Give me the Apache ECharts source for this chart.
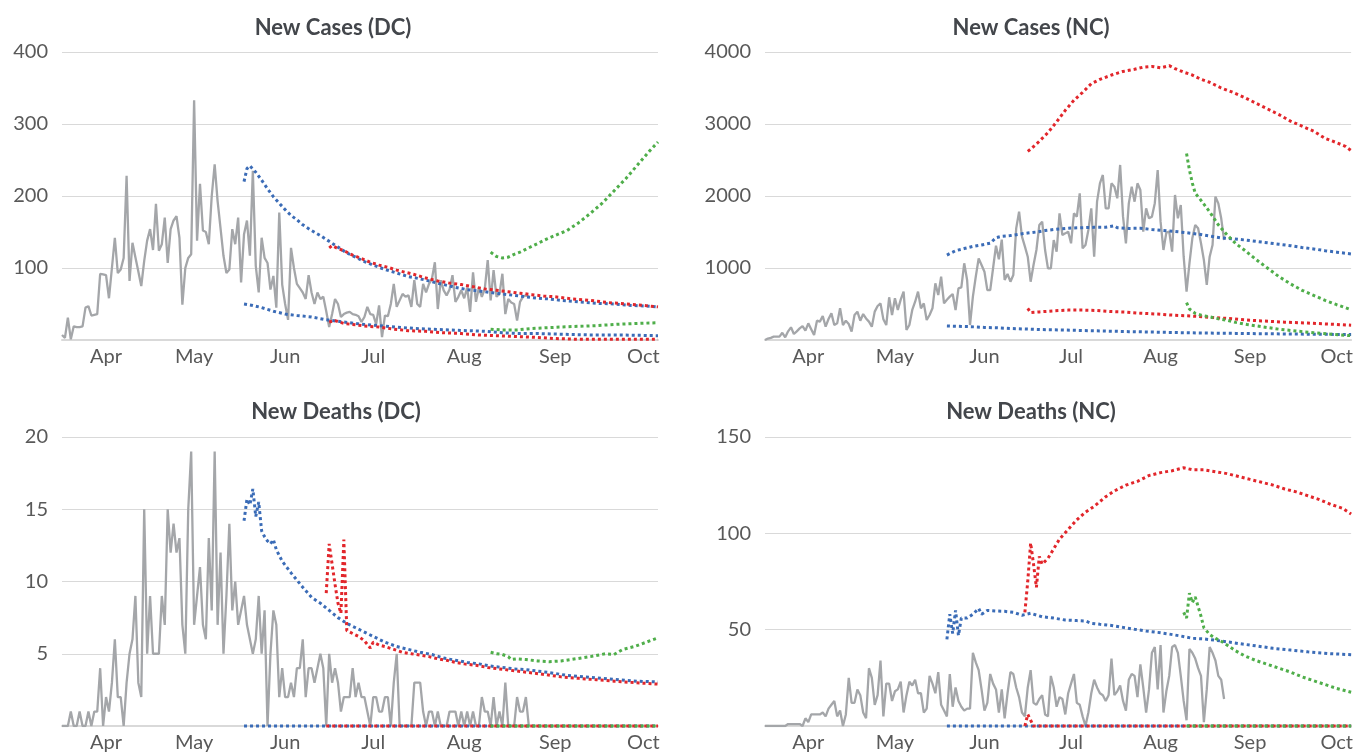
<!DOCTYPE html>
<html>
<head>
<meta charset="utf-8">
<script src="https://cdn.jsdelivr.net/npm/echarts@6/dist/echarts.min.js"></script>
<style>
html, body { margin: 0; background: #fff; }
#chart { width: 1356px; height: 755px; }
</style>
</head>
<body>
<div id="chart"></div>
<script>
"use strict";
// x axis: one category per day, day 0 = 2020-03-17, day 203 = 2020-10-06
var FIRST_DAY = [2020, 2, 17];
var DAY_COUNT = 204;
var MONTH_NAMES = ['Jan', 'Feb', 'Mar', 'Apr', 'May', 'Jun', 'Jul', 'Aug', 'Sep', 'Oct', 'Nov', 'Dec'];

// observed daily values, starting at day 0
var dcCases = [7, 3, 31, 1, 19, 18, 18, 19, 45, 47,
    34, 35, 36, 92, 91, 90, 58, 100, 142, 93,
    98, 114, 228, 82, 135, 115, 95, 75, 110, 138,
    154, 125, 189, 124, 133, 170, 107, 154, 166, 172,
    142, 49, 100, 114, 119, 333, 138, 217, 152, 150,
    133, 200, 244, 193, 155, 117, 93, 98, 154, 133,
    170, 80, 147, 166, 117, 235, 103, 66, 142, 114,
    107, 70, 89, 45, 177, 77, 50, 28, 128, 100,
    78, 72, 66, 57, 90, 66, 50, 66, 57, 60,
    40, 18, 36, 57, 50, 32, 36, 38, 39, 36,
    35, 33, 25, 32, 46, 36, 35, 22, 48, 4,
    34, 33, 50, 78, 46, 55, 64, 60, 62, 46,
    83, 50, 46, 78, 66, 78, 85, 108, 43, 83,
    69, 62, 70, 90, 53, 60, 69, 58, 73, 39,
    94, 53, 73, 60, 71, 111, 55, 97, 60, 64,
    92, 36, 57, 52, 50, 27, 53, 60, 62, 60];
var ncCases = [0, 20, 30, 46, 46, 46, 100, 37, 120, 176,
    83, 120, 162, 194, 130, 231, 150, 69, 268, 255,
    333, 185, 292, 370, 208, 231, 440, 208, 268, 222,
    116, 347, 394, 268, 361, 300, 255, 185, 394, 472,
    509, 287, 208, 593, 347, 579, 417, 560, 671, 139,
    208, 417, 532, 671, 440, 509, 278, 347, 440, 787,
    625, 880, 509, 560, 602, 639, 417, 718, 731, 1065,
    833, 208, 602, 880, 1134, 1042, 949, 694, 694, 1000,
    1310, 1120, 1395, 833, 917, 810, 903, 1551, 1782, 1435,
    1300, 1157, 810, 1042, 1250, 1597, 1644, 1250, 995, 995,
    1389, 1227, 1759, 1458, 1481, 1505, 1343, 1759, 1713, 2037,
    1273, 1319, 1528, 1829, 1157, 1921, 2176, 2292, 1829, 1829,
    2176, 2130, 1968, 2431, 1713, 1343, 1898, 2130, 1921, 2176,
    2083, 1505, 1829, 1690, 1713, 1900, 2361, 1644, 1250, 1491,
    1505, 1227, 2014, 1690, 1875, 1157, 671, 1065, 1412, 1597,
    1551, 1343, 1111, 764, 1157, 1319, 1991, 1898, 1690, 1389];
var dcDeaths = [0, 0, 0, 1, 0, 0, 1, 0, 0, 1,
    0, 1, 1, 4, 0, 2, 1, 3, 6, 2,
    2, 0, 3, 5, 6, 9, 3, 2, 15, 5,
    9, 5, 5, 5, 9, 7, 15, 12, 14, 12,
    13, 7, 5, 15, 19, 7, 9, 11, 7, 6,
    13, 8, 19, 7, 12, 5, 9, 14, 8, 10,
    7, 8, 9, 7, 6, 5, 6, 9, 5, 8,
    0, 5, 8, 7, 2, 4, 2, 2, 3, 2,
    4, 4, 6, 2, 4, 4, 3, 4, 5, 4,
    0, 5, 3, 4, 3, 1, 2, 2, 2, 4,
    2, 3, 2, 2, 1, 0, 2, 2, 1, 1,
    2, 2, 0, 3, 5, 0, 0, 0, 0, 0,
    3, 3, 3, 1, 0, 1, 1, 0, 1, 0,
    0, 0, 1, 1, 1, 0, 1, 0, 1, 0,
    1, 0, 0, 2, 1, 1, 0, 2, 0, 1,
    0, 3, 0, 0, 0, 2, 1, 1, 2, 0];
var ncDeaths = [0, 0, 0, 0, 0, 0, 0, 0, 1, 1,
    1, 1, 1, 0, 4, 2, 6, 6, 6, 6,
    7, 5, 9, 11, 13, 5, 8, 0, 6, 25,
    12, 12, 19, 16, 7, 4, 30, 25, 11, 16,
    34, 5, 22, 22, 13, 18, 19, 23, 7, 16,
    23, 21, 24, 17, 17, 7, 9, 26, 22, 17,
    28, 11, 8, 5, 27, 10, 20, 13, 10, 8,
    9, 9, 38, 33, 29, 19, 8, 12, 27, 22,
    19, 7, 19, 4, 17, 28, 27, 20, 15, 7,
    5, 20, 29, 12, 11, 14, 16, 6, 5, 26,
    20, 10, 15, 14, 6, 17, 22, 27, 12, 11,
    5, 0, 7, 17, 24, 20, 17, 16, 13, 16,
    35, 16, 18, 21, 13, 8, 24, 27, 26, 15,
    32, 20, 7, 19, 38, 41, 19, 42, 7, 18,
    26, 41, 42, 38, 26, 13, 3, 40, 38, 35,
    30, 26, 2, 19, 41, 38, 34, 26, 24, 14];

// projections as [day, value]; blue = made late May, red = mid June, green = mid August
var dcCasesBlueHi = [[62, 220], [63, 238], [64, 242], [66, 233], [68, 222], [70, 210], [72, 199], [74, 190], [76, 181], [78, 173], [80, 167], [82, 160], [85, 152], [88, 145], [91, 137], [94, 129], [97, 121], [100, 115], [103, 109], [106, 104], [110, 98], [114, 93], [118, 88], [122, 85], [126, 81], [130, 77], [134, 73], [138, 70], [142, 68], [146, 66], [150, 64], [154, 62], [158, 60], [162, 58], [166, 57], [170, 55], [176, 53], [182, 51], [188, 50], [194, 48], [200, 47], [203, 46]];
var dcCasesBlueLo = [[62, 50], [65, 48], [68, 45], [72, 40], [76, 36], [80, 34], [85, 32], [90, 28], [96, 25], [102, 22], [108, 20], [114, 18], [120, 16], [126, 15], [132, 14], [138, 13], [144, 12], [150, 10], [156, 9], [162, 9], [170, 8], [180, 7], [190, 7], [203, 6]];
var dcCasesRedHi = [[91, 128], [92, 131], [94, 127], [96, 124], [99, 118], [102, 113], [105, 108], [108, 104], [111, 101], [114, 97], [117, 94], [120, 91], [124, 86], [128, 82], [132, 79], [136, 77], [140, 74], [144, 71], [148, 69], [152, 67], [156, 65], [160, 63], [164, 61], [168, 60], [174, 57], [180, 55], [186, 52], [192, 50], [198, 48], [203, 46]];
var dcCasesRedLo = [[91, 25], [93, 27], [96, 23], [100, 21], [104, 19], [108, 18], [113, 15], [118, 13], [124, 12], [130, 10], [136, 9], [142, 7], [148, 6], [154, 5], [160, 4], [168, 2], [176, 1], [190, 1], [203, 1]];
var dcCasesGreenHi = [[146, 122], [148, 116], [150, 114], [152, 115], [154, 119], [156, 122], [159, 128], [162, 134], [165, 140], [169, 147], [172, 152], [176, 163], [180, 176], [184, 190], [188, 207], [192, 224], [196, 243], [200, 262], [203, 275]];
var dcCasesGreenLo = [[146, 15], [150, 14], [155, 14], [160, 16], [165, 17], [170, 18], [176, 19], [182, 20], [190, 22], [196, 23], [203, 24]];

var ncCasesBlueHi = [[63, 1180], [66, 1240], [69, 1270], [72, 1300], [75, 1320], [78, 1345], [80, 1420], [82, 1440], [85, 1450], [88, 1470], [91, 1485], [94, 1500], [97, 1520], [100, 1535], [103, 1545], [106, 1555], [110, 1560], [114, 1565], [118, 1565], [121, 1585], [122, 1560], [126, 1550], [130, 1552], [134, 1535], [138, 1520], [142, 1508], [146, 1490], [150, 1470], [154, 1443], [158, 1418], [162, 1405], [166, 1390], [170, 1370], [174, 1350], [178, 1330], [182, 1310], [186, 1285], [190, 1265], [194, 1240], [198, 1220], [203, 1195]];
var ncCasesBlueLo = [[63, 194], [67, 190], [71, 185], [76, 175], [80, 170], [85, 160], [90, 153], [96, 145], [102, 140], [108, 134], [114, 128], [120, 122], [126, 116], [132, 112], [138, 107], [144, 102], [150, 98], [156, 95], [163, 92], [170, 88], [180, 84], [190, 80], [203, 76]];
var ncCasesRedHi = [[91, 2620], [92, 2650], [95, 2760], [98, 2880], [101, 3030], [104, 3190], [107, 3330], [110, 3440], [113, 3560], [116, 3620], [120, 3680], [124, 3730], [128, 3760], [131, 3790], [134, 3800], [137, 3780], [140, 3810], [142, 3770], [145, 3720], [148, 3680], [151, 3620], [154, 3580], [158, 3500], [162, 3440], [166, 3370], [170, 3290], [174, 3210], [178, 3130], [182, 3040], [186, 2970], [190, 2900], [194, 2800], [198, 2740], [201, 2690], [203, 2630]];
var ncCasesRedLo = [[91, 440], [92, 380], [95, 390], [100, 405], [105, 415], [110, 415], [115, 410], [120, 395], [125, 388], [130, 372], [136, 360], [142, 343], [148, 332], [154, 315], [160, 300], [166, 280], [172, 265], [180, 248], [188, 235], [196, 220], [203, 205]];
var ncCasesGreenHi = [[146, 2590], [147, 2360], [148, 2180], [149, 2040], [151, 1940], [154, 1780], [157, 1600], [160, 1460], [163, 1340], [166, 1250], [170, 1120], [174, 1000], [178, 880], [182, 780], [186, 690], [190, 620], [194, 550], [198, 490], [203, 420]];
var ncCasesGreenLo = [[146, 518], [147, 430], [149, 370], [151, 345], [154, 322], [157, 295], [160, 275], [163, 245], [167, 215], [172, 185], [178, 150], [184, 125], [190, 100], [196, 80], [203, 60]];

var dcDeathsBlueHi = [[62, 14.2], [63, 15.7], [64, 15.3], [65, 16.4], [66, 14.5], [67, 15.5], [68, 13.5], [69, 13.1], [70, 12.8], [71, 12.6], [72, 12.9], [73, 12.2], [75, 11.4], [78, 10.6], [80, 10.1], [82, 9.6], [85, 8.9], [88, 8.5], [91, 8.0], [94, 7.5], [97, 7.1], [100, 6.8], [103, 6.5], [106, 6.2], [110, 5.8], [114, 5.5], [118, 5.3], [122, 5.1], [126, 4.95], [130, 4.7], [134, 4.55], [138, 4.4], [142, 4.3], [146, 4.15], [150, 4.05], [154, 3.95], [158, 3.9], [162, 3.8], [166, 3.7], [172, 3.5], [178, 3.4], [184, 3.3], [190, 3.2], [196, 3.1], [203, 3.05]];
var dcDeathsBlueLo = [[62, 0], [203, 0]];
var dcDeathsRedHi = [[90, 9.2], [91, 12.6], [92, 11.2], [93, 9.8], [94, 8.5], [95, 7.8], [96, 12.9], [97, 6.6], [99, 6.4], [101, 6.2], [103, 5.9], [105, 5.4], [106, 5.8], [108, 5.6], [110, 5.5], [113, 5.3], [116, 5.1], [119, 5.0], [122, 4.9], [125, 4.8], [128, 4.65], [131, 4.55], [134, 4.4], [137, 4.3], [141, 4.2], [145, 4.05], [149, 3.95], [153, 3.85], [157, 3.75], [161, 3.65], [165, 3.55], [170, 3.4], [176, 3.3], [182, 3.2], [188, 3.1], [195, 3.0], [203, 2.9]];
var dcDeathsRedLo = [[90, 0], [203, 0]];
var dcDeathsGreenHi = [[146, 5.1], [148, 5.0], [150, 4.95], [152, 4.8], [153, 4.6], [155, 4.65], [158, 4.6], [162, 4.5], [166, 4.45], [170, 4.5], [175, 4.65], [180, 4.8], [185, 5.0], [188, 4.95], [191, 5.3], [195, 5.5], [199, 5.8], [203, 6.1]];
var dcDeathsGreenLo = [[146, 0], [203, 0]];

var ncDeathsBlueHi = [[63, 45], [64, 58], [65, 48], [66, 60], [67, 47], [68, 56], [70, 56], [72, 58], [74, 61], [75, 58], [77, 60], [80, 59.7], [83, 59.5], [86, 59], [89, 57.5], [92, 58.5], [96, 56.7], [100, 56], [104, 55], [108, 54.7], [111, 54.5], [113, 53.3], [116, 52.8], [120, 52.2], [124, 51.2], [128, 50.2], [132, 49.3], [136, 48.6], [140, 47.7], [144, 46.7], [148, 45.5], [152, 45.2], [156, 44.5], [160, 43.7], [164, 42.8], [170, 41.6], [176, 40.3], [182, 39.4], [188, 38.5], [195, 37.6], [203, 37]];
var ncDeathsBlueLo = [[63, 0], [203, 0]];
var ncDeathsRedHi = [[90, 59], [91, 75], [92, 95], [93, 84], [94, 72], [95, 88], [96, 84], [98, 87], [100, 92], [102, 97], [105, 102], [108, 107], [111, 111], [114, 114], [118, 119], [121, 122], [125, 125], [129, 127], [133, 130], [137, 131.5], [141, 132.5], [145, 134], [148, 133], [152, 133], [156, 132], [160, 131], [164, 129.5], [168, 128], [172, 126.5], [176, 125], [180, 123], [184, 121.5], [188, 119.5], [192, 117.5], [196, 115], [200, 113], [203, 110]];
var ncDeathsRedLo = [[90, 0], [91, 6], [92, 3], [93, 0], [203, 0]];
var ncDeathsGreenHi = [[145, 59], [146, 56], [147, 69], [148, 64], [149, 67], [150, 62], [151, 57], [152, 51], [154, 47.5], [156, 45.5], [158, 44], [160, 42], [163, 39], [166, 36.5], [170, 34], [174, 32], [178, 30], [182, 28], [186, 25.5], [190, 23.5], [194, 21.5], [198, 19.5], [203, 17.5]];
var ncDeathsGreenLo = [[146, 0], [203, 0]];

var GRAY = '#a4a6a9';
var BLUE = '#3b6cb7';
var RED = '#e2262b';
var GREEN = '#4fae4a';
var TEXT = '#595959';
var FONT = 'Lato';

var days = [];
for (var d = 0; d < DAY_COUNT; d++) {
    var dt = new Date(FIRST_DAY[0], FIRST_DAY[1], FIRST_DAY[2] + d);
    days.push(dt.getFullYear() + '-' + (dt.getMonth() + 1) + '-' + dt.getDate());
}

var panels = [
    { title: 'New Cases (DC)', left: 62, top: 52, width: 596, height: 288, titleX: 333, titleY: 17, max: 400, interval: 100,
      actual: dcCases, blue: [dcCasesBlueHi, dcCasesBlueLo], red: [dcCasesRedHi, dcCasesRedLo], green: [dcCasesGreenHi, dcCasesGreenLo] },
    { title: 'New Cases (NC)', left: 765, top: 52, width: 590, height: 288, titleX: 1031, titleY: 17, max: 4000, interval: 1000,
      actual: ncCases, blue: [ncCasesBlueHi, ncCasesBlueLo], red: [ncCasesRedHi, ncCasesRedLo], green: [ncCasesGreenHi, ncCasesGreenLo] },
    { title: 'New Deaths (DC)', left: 62, top: 437, width: 596, height: 289, titleX: 336, titleY: 401, max: 20, interval: 5,
      actual: dcDeaths, blue: [dcDeathsBlueHi, dcDeathsBlueLo], red: [dcDeathsRedHi, dcDeathsRedLo], green: [dcDeathsGreenHi, dcDeathsGreenLo] },
    { title: 'New Deaths (NC)', left: 765, top: 437, width: 590, height: 289, titleX: 1031, titleY: 401, max: 150, interval: 50,
      actual: ncDeaths, blue: [ncDeathsBlueHi, ncDeathsBlueLo], red: [ncDeathsRedHi, ncDeathsRedLo], green: [ncDeathsGreenHi, ncDeathsGreenLo] }
];

var titles = [], grids = [], xAxes = [], yAxes = [], series = [];

function projection(idx, data, color) {
    return {
        type: 'line', xAxisIndex: idx, yAxisIndex: idx, data: data,
        showSymbol: false, clip: false, silent: true,
        lineStyle: { color: color, width: 3, type: 'dotted' }
    };
}

panels.forEach(function (p, i) {
    titles.push({
        text: p.title, left: p.titleX, top: p.titleY, textAlign: 'center', padding: 0,
        textStyle: { fontFamily: FONT, fontSize: 22, fontWeight: 'bold', color: '#43464b' }
    });
    grids.push({ left: p.left, top: p.top, width: p.width, height: p.height });
    xAxes.push({
        type: 'category', gridIndex: i, data: days, boundaryGap: false,
        axisLine: { lineStyle: { color: '#d9d9d9', width: 2 } },
        axisTick: { show: false },
        axisLabel: {
            interval: function (index, value) { return value.split('-')[2] === '1'; },
            formatter: function (value) { return MONTH_NAMES[+value.split('-')[1] - 1]; },
            fontFamily: FONT, fontSize: 20, color: TEXT, margin: 7
        },
        splitLine: { show: false }
    });
    yAxes.push({
        type: 'value', gridIndex: i, min: 0, max: p.max, interval: p.interval,
        axisLine: { show: false }, axisTick: { show: false },
        axisLabel: {
            fontFamily: FONT, fontSize: 20, color: TEXT, margin: 14,
            formatter: function (v) { return v === 0 ? '' : String(v); }
        },
        splitLine: { lineStyle: { color: '#d9d9d9', width: 1 } }
    });
    series.push({
        type: 'line', xAxisIndex: i, yAxisIndex: i, data: p.actual,
        showSymbol: false, silent: true,
        lineStyle: { color: GRAY, width: 2.3 }
    });
    series.push(projection(i, p.blue[0], BLUE));
    series.push(projection(i, p.blue[1], BLUE));
    series.push(projection(i, p.red[0], RED));
    series.push(projection(i, p.red[1], RED));
    series.push(projection(i, p.green[0], GREEN));
    series.push(projection(i, p.green[1], GREEN));
});

var chart = echarts.init(document.getElementById('chart'));
chart.setOption({
    animation: false,
    backgroundColor: '#ffffff',
    title: titles,
    grid: grids,
    xAxis: xAxes,
    yAxis: yAxes,
    series: series
});
</script>
</body>
</html>
